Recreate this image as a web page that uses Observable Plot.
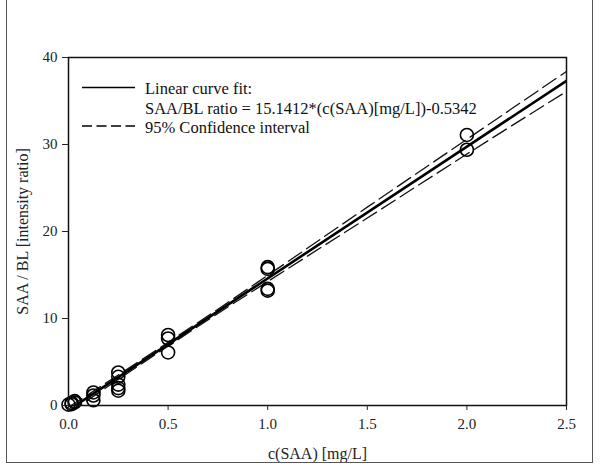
<!DOCTYPE html>
<html>
<head>
<meta charset="utf-8">
<script src="https://cdn.jsdelivr.net/npm/d3@7"></script>
<script src="https://cdn.jsdelivr.net/npm/@observablehq/plot@0.6"></script>
<style>
  html, body { margin: 0; padding: 0; background: #fff; }
  #wrap { position: relative; width: 601px; height: 470px; overflow: hidden; }
  #border { position: absolute; left: 6px; top: -10px; width: 585px; height: 472px;
            border-left: 1.5px solid #555; border-right: 1.5px solid #555; border-bottom: 1.5px solid #555; }
  #wrap svg, #wrap svg text { font-family: "Liberation Serif", "Times New Roman", serif !important; }
</style>
</head>
<body>
<div id="wrap"><div id="border"></div></div>
<script>
// Measured data points (concentration, ratio)
const concentration = [0, 0.0156, 0.0156, 0.03125, 0.03125, 0.125, 0.125, 0.125, 0.25, 0.25, 0.25, 0.25, 0.25, 0.5, 0.5, 0.5, 1, 1, 1, 1, 2, 2];
const ratio = [0.1, 0.15, 0.3, 0.5, 0.35, 1.5, 1.15, 0.6, 3.8, 3.3, 2.4, 2.0, 1.7, 8.1, 7.7, 6.1, 15.9, 15.7, 13.4, 13.2, 31.1, 29.4];

// Linear fit line endpoints (SAA/BL ratio = 15.1412*c - 0.5342)
const fitX = [0, 2.5];
const fitY = [-0.53, 37.32];

// 95% confidence band
const ciX = [0, 0.25, 0.5, 0.75, 1.0, 1.5, 2.0, 2.5];
const ciUpper = [-0.2, 3.5, 7.26, 11.07, 14.96, 22.8, 30.6, 38.4];
const ciLower = [-0.9, 3.0, 6.82, 10.57, 14.25, 21.55, 28.9, 36.1];

const xTicks = [0, 0.5, 1.0, 1.5, 2.0, 2.5];
const yTicks = [0, 10, 20, 30, 40];

const legendItems = [
  {label: "Linear curve fit:", dash: null},
  {label: "SAA/BL ratio = 15.1412*(c(SAA)[mg/L])-0.5342", dash: "none"},
  {label: "95% Confidence interval", dash: "10,4.5"}
];

const points = concentration.map((c, i) => ({x: c, y: ratio[i]}));
const fit = fitX.map((x, i) => ({x, y: fitY[i]}));
const upper = ciX.map((x, i) => ({x, y: ciUpper[i]}));
const lower = ciX.map((x, i) => ({x, y: ciLower[i]}));

const serif = "'Liberation Serif', 'Times New Roman', serif";

const chart = Plot.plot({
  width: 601,
  height: 470,
  marginLeft: 68,
  marginRight: 35,
  marginTop: 57,
  marginBottom: 65,
  style: {fontFamily: serif, fontSize: "15px", color: "#222", background: "transparent"},
  x: {domain: [0, 2.5]},
  y: {domain: [0, 40]},
  marks: [
    Plot.line(upper, {x: "x", y: "y", stroke: "#111", strokeWidth: 1.3, strokeDasharray: "16,6", curve: "monotone-x", clip: true}),
    Plot.line(lower, {x: "x", y: "y", stroke: "#111", strokeWidth: 1.3, strokeDasharray: "16,6", curve: "monotone-x", clip: true}),
    Plot.line(fit, {x: "x", y: "y", stroke: "#000", strokeWidth: 2.6, clip: true}),
    Plot.dot(points, {x: "x", y: "y", r: 6.5, stroke: "#000", strokeWidth: 1.6, fill: "none"}),
    Plot.frame({stroke: "#111", strokeWidth: 1.5}),
    Plot.axisX({ticks: xTicks, tickFormat: d3.format(".1f"), tickSize: 5, tickPadding: 8,
      label: "c(SAA) [mg/L]", labelAnchor: "center", labelArrow: "none", labelOffset: 53, fontSize: 15}),
    Plot.axisY({ticks: yTicks, tickSize: 6, tickPadding: 5,
      label: "SAA / BL [intensity ratio]", labelAnchor: "center", labelArrow: "none", labelOffset: 52, fontSize: 15})
  ]
});

document.getElementById("wrap").appendChild(chart);

d3.select(chart).selectAll("[aria-label='x-axis label'] text, [aria-label='y-axis label'] text").style("font-size", "16px");

// Legend
const svg = d3.select(chart);
const lg = svg.append("g").attr("font-family", serif).attr("font-size", 16.5).attr("fill", "#111").attr("text-anchor", "start");
lg.append("line").attr("x1", 82).attr("x2", 135).attr("y1", 87.5).attr("y2", 87.5).attr("stroke", "#000").attr("stroke-width", 1.5);
lg.append("text").attr("x", 145).attr("y", 94).text(legendItems[0].label);
lg.append("text").attr("x", 145).attr("y", 114).text(legendItems[1].label);
lg.append("line").attr("x1", 82).attr("x2", 135).attr("y1", 126).attr("y2", 126).attr("stroke", "#000").attr("stroke-width", 1.3).attr("stroke-dasharray", legendItems[2].dash);
lg.append("text").attr("x", 145).attr("y", 133).text(legendItems[2].label);
</script>
</body>
</html>
